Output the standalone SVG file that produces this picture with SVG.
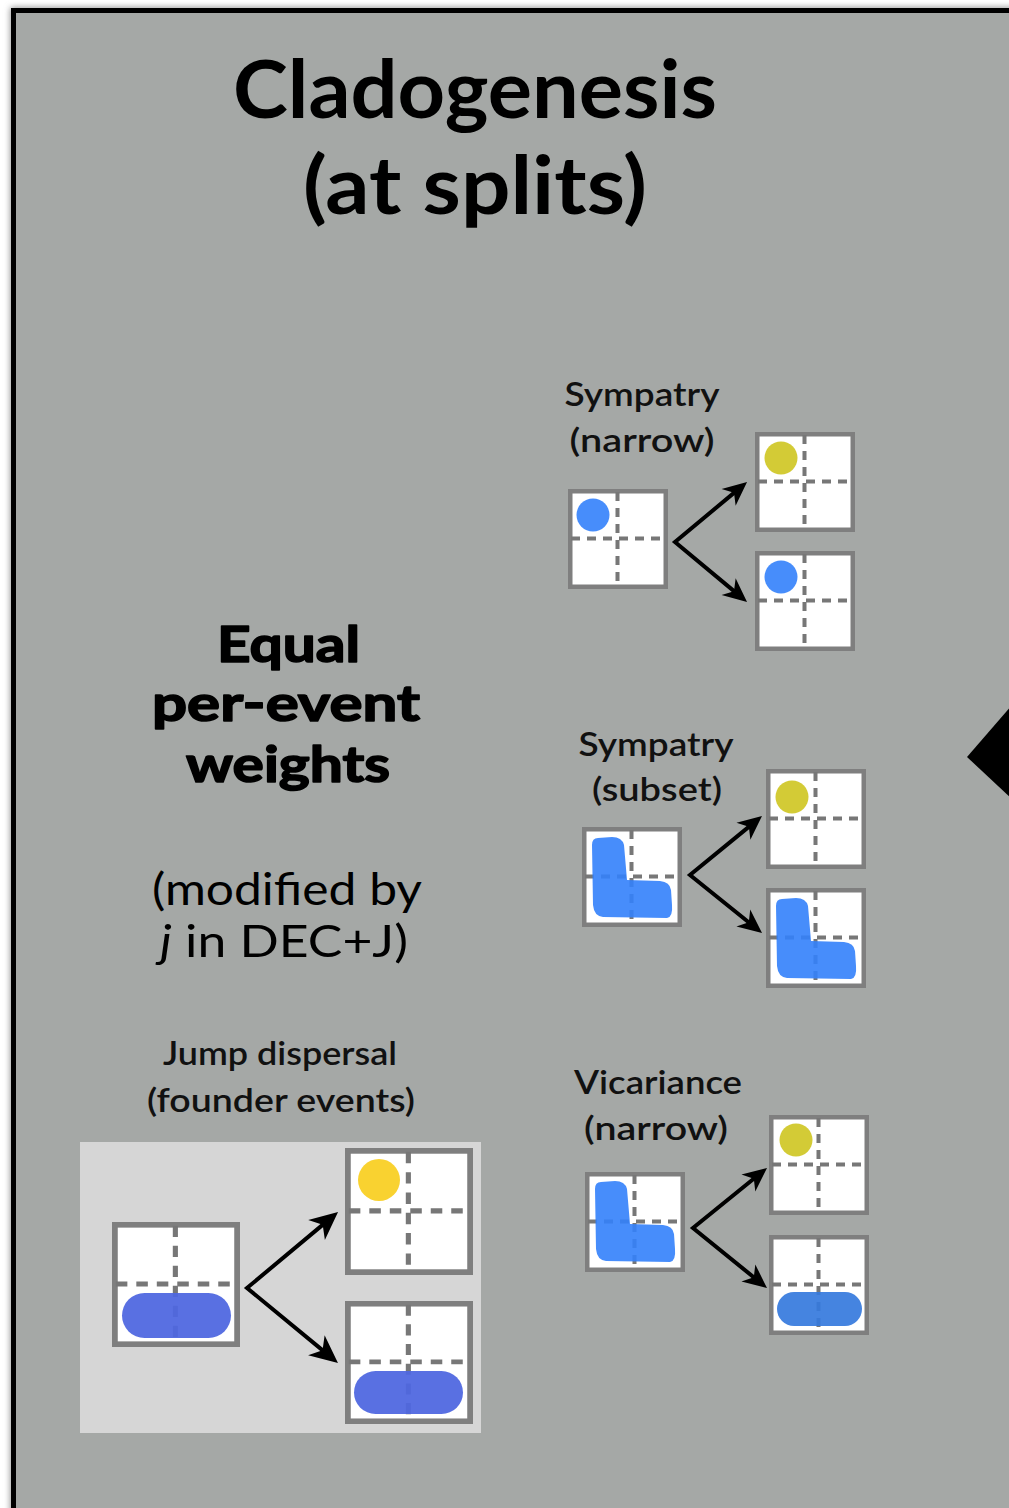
<svg xmlns="http://www.w3.org/2000/svg" xmlns:xlink="http://www.w3.org/1999/xlink" width="1009" height="1508" viewBox="0 0 1009 1508">
<style>
.frame{fill:#ffffff;stroke:#7f7f7f;stroke-width:4.5}
.dash{stroke:#777777;stroke-width:4;stroke-dasharray:9 7;fill:none}
.lbl{font-family:Lato,"Open Sans","DejaVu Sans",sans-serif;font-size:33px;font-weight:600;fill:#111;text-anchor:middle}
.big{font-family:Lato,"Open Sans","DejaVu Sans",sans-serif;font-weight:700;fill:#000;text-anchor:middle}
.heavy{stroke:#000;stroke-width:1.6;stroke-linejoin:round}
.mod{font-family:Lato,"Open Sans","DejaVu Sans",sans-serif;font-size:45px;font-weight:400;fill:#000;text-anchor:middle}
.blue{fill:#3381fb;fill-opacity:0.9}
.yel{fill:#d3cb36}
.arr{fill:none;stroke:#000;stroke-width:4;stroke-linejoin:miter;stroke-miterlimit:10}
</style>
<defs>
<filter id="sh" x="-5%" y="-5%" width="110%" height="110%"><feGaussianBlur stdDeviation="3"/></filter>
<marker id="ah" markerUnits="userSpaceOnUse" viewBox="-22 -14 34 28" markerWidth="34" markerHeight="28" refX="0" refY="0" orient="auto-start-reverse" overflow="visible">
<path d="M8,0 L-16,-11 L-9,0 L-16,11 Z" fill="#000"/>
</marker>
<marker id="ahj" markerUnits="userSpaceOnUse" viewBox="-26 -18 40 36" markerWidth="40" markerHeight="36" refX="0" refY="0" orient="auto-start-reverse" overflow="visible">
<path d="M8,0 L-20,-13 L-12,0 L-20,13 Z" fill="#000"/>
</marker>
<g id="box">
<rect x="2.25" y="2.25" width="95.5" height="95.5" class="frame"/>
<line x1="49.5" y1="3" x2="49.5" y2="97" class="dash"/>
<line x1="3" y1="49.5" x2="97" y2="49.5" class="dash"/>
</g>
<path id="ell" d="M16,11 Q10,11 10,18 L11,78 Q12,89 21,90 L85,91 Q91,90 90,78 L89,63 Q88,55 78,54 L45,53 L42,18 Q40,10 30,10 Z"/>
</defs>

<rect x="13.5" y="10.5" width="1100" height="1600" fill="none" stroke="#888" stroke-width="6" filter="url(#sh)"/>
<rect x="13.5" y="10.5" width="1100" height="1600" fill="#a5a8a6" stroke="#000" stroke-width="5"/>

<g id="title">
<text class="big" x="475" y="118" font-size="80" textLength="484" lengthAdjust="spacingAndGlyphs">Cladogenesis</text>
<text class="big" x="475" y="214" font-size="80" textLength="344" lengthAdjust="spacingAndGlyphs">(at splits)</text>
</g>

<g id="weights-label">
<text class="big heavy" x="288.5" y="662" font-size="50" textLength="143" lengthAdjust="spacingAndGlyphs">Equal</text>
<text class="big heavy" x="286" y="721" font-size="50" textLength="268" lengthAdjust="spacingAndGlyphs">per-event</text>
<text class="big heavy" x="288" y="782" font-size="50" textLength="204" lengthAdjust="spacingAndGlyphs">weights</text>
<text class="mod" x="287" y="905" textLength="270" lengthAdjust="spacingAndGlyphs">(modified by</text>
<text class="mod" x="284" y="957" textLength="248" lengthAdjust="spacingAndGlyphs"><tspan font-style="italic">j</tspan> in DEC+J)</text>
</g>

<g id="right-marker">
<polygon points="967,757 1012,705 1012,799" fill="#000"/>
</g>

<g id="sympatry-narrow">
<text class="lbl" x="642" y="406" textLength="155" lengthAdjust="spacingAndGlyphs">Sympatry</text>
<text class="lbl" x="642" y="452" textLength="145" lengthAdjust="spacingAndGlyphs">(narrow)</text>
<g id="sn-parent"><use href="#box" x="568" y="489"/><circle cx="593" cy="515" r="16.5" class="blue"/></g>
<g id="sn-child1"><use href="#box" x="755" y="432"/><circle cx="781" cy="458" r="16.5" class="yel"/></g>
<g id="sn-child2"><use href="#box" x="755" y="551"/><circle cx="781" cy="577" r="16.5" class="blue"/></g>
</g>

<g id="sympatry-subset">
<text class="lbl" x="656" y="756" textLength="155" lengthAdjust="spacingAndGlyphs">Sympatry</text>
<text class="lbl" x="657" y="801" textLength="130" lengthAdjust="spacingAndGlyphs">(subset)</text>
<g id="ss-parent"><use href="#box" x="582" y="827"/><use href="#ell" x="582" y="827" class="blue"/></g>
<g id="ss-child1"><use href="#box" x="766" y="769"/><circle cx="792" cy="797" r="16.5" class="yel"/></g>
<g id="ss-child2"><use href="#box" x="766" y="888"/><use href="#ell" x="766" y="888" class="blue"/></g>
</g>

<g id="vicariance-narrow">
<text class="lbl" x="658" y="1094" textLength="168" lengthAdjust="spacingAndGlyphs">Vicariance</text>
<text class="lbl" x="656" y="1140" textLength="144" lengthAdjust="spacingAndGlyphs">(narrow)</text>
<g id="vn-parent"><use href="#box" x="585" y="1172"/><use href="#ell" x="585" y="1171" class="blue"/></g>
<g id="vn-child1"><use href="#box" x="769" y="1115"/><circle cx="796" cy="1140" r="16.5" class="yel"/></g>
<g id="vn-child2"><use href="#box" x="769" y="1235"/><rect x="777" y="1292" width="85" height="34" rx="17" fill="#3579dd" fill-opacity="0.92"/></g>
</g>

<g id="jump-dispersal">
<text class="lbl" x="280" y="1065" textLength="234" lengthAdjust="spacingAndGlyphs">Jump dispersal</text>
<text class="lbl" x="281" y="1112" textLength="268" lengthAdjust="spacingAndGlyphs">(founder events)</text>
<rect x="80" y="1142" width="401" height="291" fill="#d6d6d6"/>
<g id="jd-parent"><use href="#box" transform="translate(112,1222) scale(1.28,1.25)"/><rect x="122" y="1293" width="109" height="45" rx="22.5" fill="#4f67e0" fill-opacity="0.94"/></g>
<g id="jd-child1"><use href="#box" transform="translate(345,1148) scale(1.28,1.27)"/><circle cx="379" cy="1180" r="21" fill="#f9d230"/></g>
<g id="jd-child2"><use href="#box" transform="translate(345,1301) scale(1.28,1.23)"/><rect x="354" y="1371" width="109" height="43" rx="21.5" fill="#4f67e0" fill-opacity="0.94"/></g>
</g>

<g id="connectors">
<path class="arr" d="M740.9,487.1 L675,542 L740.9,596.9" marker-start="url(#ah)" marker-end="url(#ah)"/>
<path class="arr" d="M755.8,821.1 L690,875 L755.8,928" marker-start="url(#ah)" marker-end="url(#ah)"/>
<path class="arr" d="M760.8,1173 L693,1228 L760.8,1283" marker-start="url(#ah)" marker-end="url(#ah)"/>
<path class="arr" d="M331.9,1217.1 L247,1288 L331.8,1357.9" stroke-width="4.5" marker-start="url(#ahj)" marker-end="url(#ahj)"/>
</g>
</svg>
